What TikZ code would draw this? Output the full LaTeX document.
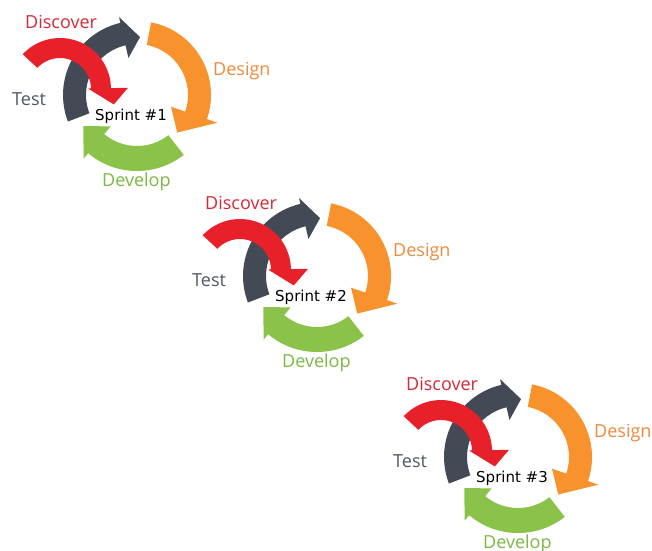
\documentclass[tikz,border=0pt]{standalone}
\usepackage{fontspec}
\setmainfont{Open Sans}
\newfontfamily\sprintfont{DejaVu Sans}

\definecolor{arrowred}{HTML}{E8202A}
\definecolor{arroworange}{HTML}{F7922C}
\definecolor{arrowgreen}{HTML}{8BC34A}
\definecolor{arrowgray}{HTML}{434A55}
\definecolor{textred}{HTML}{D42A38}
\definecolor{textorange}{HTML}{EE8A3C}
\definecolor{textgray}{HTML}{505866}
\definecolor{textgreen}{HTML}{7DB843}

% Curved band arrow around the current origin (angles counter-clockwise):
% #1 colour, #2 start angle, #3 end angle, #4 inner radius, #5 outer radius,
% #6 inner wing radius, #7 outer wing radius, #8 tip angle, #9 tip radius
\newcommand\cyclearrow[9]{%
  \fill[#1] (#2:#5) arc[start angle=#2, end angle=#3, radius=#5]
    -- (#3:#7) -- (#8:#9) -- (#3:#6) -- (#3:#4)
    arc[start angle=#3, end angle=#2, radius=#4] -- cycle;}

% One sprint cycle, shifted by (#1,#2), numbered #3
\newcommand\sprintcycle[3]{%
  \begin{scope}[shift={(#1,#2)}]
    \begin{scope}[shift={(137,95)}, yscale=-1]
      \cyclearrow{arrowgray}{201}{103}{51}{74}{38}{80}{87}{58}
      \cyclearrow{arroworange}{79}{-19}{51}{74}{36}{85}{-43}{55}
      \cyclearrow{arrowgreen}{-52}{-130}{51}{76}{41}{83}{-150}{62}
    \end{scope}
    \begin{scope}[shift={(60,89)}, yscale=-1]
      \cyclearrow{arrowred}{137}{1}{31}{51}{28}{68}{-16}{56}
    \end{scope}
    \node[phase, text=textred]    (discover#3) at (25,28)  {Discover};
    \node[phase, text=textorange] (design#3)   at (213,75) {Design};
    \node[phase, text=textgray]   (test#3)     at (12,105) {Test};
    \node[phase, text=textgreen]  (develop#3)  at (102,186) {Develop};
    \node[sprint]                 (sprint#3)   at (95,120) {Sprint \##3};
  \end{scope}}

\begin{document}
\begin{tikzpicture}[x=1pt, y=-1pt,
    phase/.style={anchor=base west, inner sep=0pt, font=\fontsize{18}{20}\selectfont},
    sprint/.style={anchor=base west, inner sep=0pt, text=black,
                   font=\sprintfont\fontsize{15}{17}\selectfont}]
  \useasboundingbox (0,0) rectangle (652,550);
  \fill[white] (0,0) rectangle (652,550);
  \sprintcycle{0}{0}{1}
  \sprintcycle{180}{181}{2}
  \sprintcycle{381}{362}{3}
\end{tikzpicture}
\end{document}
